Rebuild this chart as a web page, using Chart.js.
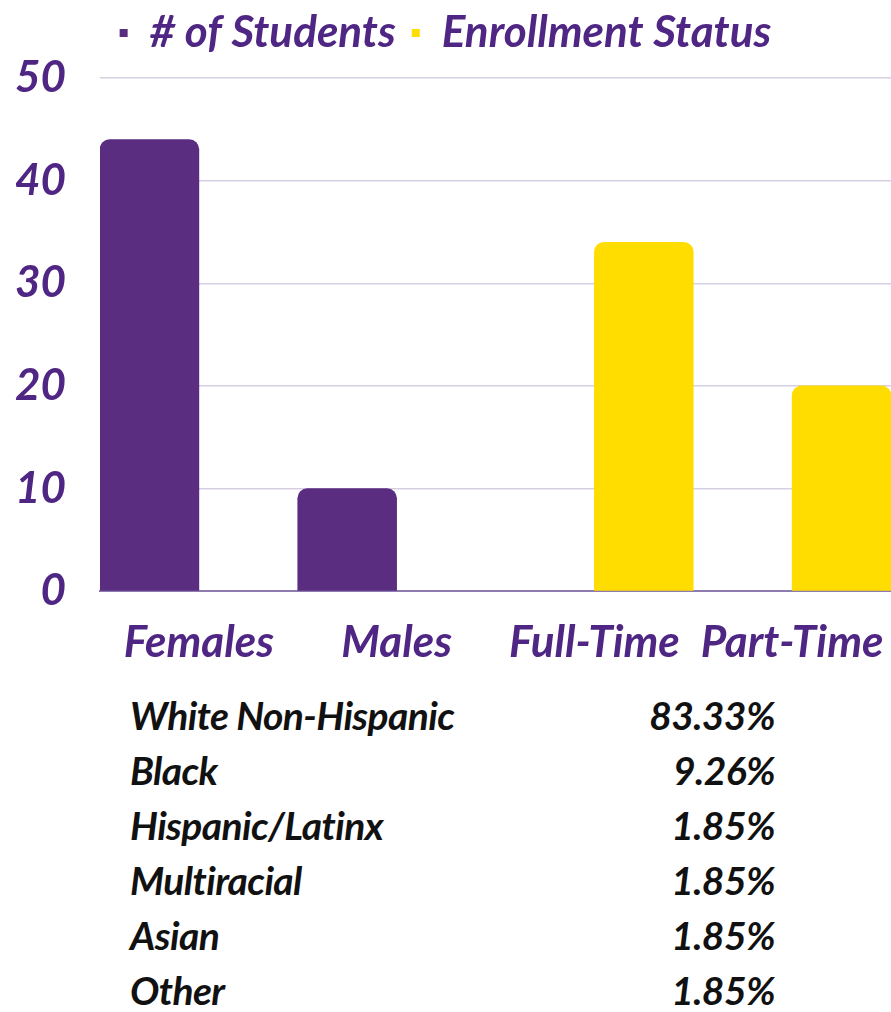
<!DOCTYPE html>
<html>
<head>
<meta charset="utf-8">
<script src="https://cdn.jsdelivr.net/npm/chart.js@4/dist/chart.umd.min.js"></script>
<style>
  body { margin: 0; background: #fff; }
  #wrap { position: relative; width: 891px; height: 686px; }
  #table { position: absolute; left: 0; top: 688px; width: 891px; }
  .row {
    position: absolute; left: 0; width: 891px; height: 55px;
    font-family: Lato, sans-serif; font-weight: bold; font-style: italic;
    font-size: 39px; letter-spacing: -0.6px; color: #111; line-height: 55px;
  }
  .row .name { position: absolute; left: 130px; }
  .row .pct { position: absolute; right: 116px; }
</style>
</head>
<body>
<div id="wrap"><canvas id="chart"></canvas></div>
<div id="table"></div>
<script>
const categories = ['Females', 'Males', 'Full-Time', 'Part-Time'];
const students = [44, 10, null, null];
const enrollment = [null, null, 34, 20];
const yTicks = [0, 10, 20, 30, 40, 50];

const groups = ['White Non-Hispanic', 'Black', 'Hispanic/Latinx', 'Multiracial', 'Asian', 'Other'];
const shares = ['83.33%', '9.26%', '1.85%', '1.85%', '1.85%', '1.85%'];

const purple = '#5a2d81';
const textPurple = '#4f2683';
const yellow = '#ffdd00';
const font = { family: 'Lato', weight: 'bold', style: 'italic', size: 44 };

// extra room under the legend
const legendGap = {
    id: 'legendGap',
    beforeInit(chart) {
        const fit = chart.legend.fit;
        chart.legend.fit = function () {
            fit.bind(chart.legend)();
            this.height += 13;
        };
    }
};

const ctx = document.getElementById('chart').getContext('2d');

const chart = new Chart(ctx, {
    type: 'bar',
    data: {
        labels: categories,
        datasets: [
            {
                label: '# of Students',
                data: students,
                backgroundColor: purple,
                borderRadius: 10,
                borderSkipped: 'start'
            },
            {
                label: 'Enrollment Status',
                data: enrollment,
                backgroundColor: yellow,
                borderRadius: 10,
                borderSkipped: 'start'
            }
        ]
    },
    options: {
        responsive: true,
        maintainAspectRatio: false,
        animation: false,
        layout: { padding: { top: -5, right: 0, left: 0, bottom: 0 } },
        datasets: {
            bar: { barPercentage: 1, categoryPercentage: 1 }
        },
        plugins: {
            tooltip: { enabled: false },
            legend: {
                position: 'top',
                labels: {
                    font: font,
                    color: textPurple,
                    boxWidth: 8,
                    boxHeight: 8,
                    padding: 16
                }
            }
        },
        scales: {
            x: {
                afterFit: function (scale) {
                    scale.paddingLeft = 0;
                    scale.paddingRight = 0;
                },
                grid: { display: false },
                border: { display: true, color: '#8d7bb0', width: 2 },
                ticks: {
                    font: font,
                    color: textPurple,
                    maxRotation: 0,
                    autoSkip: false,
                    padding: 17
                }
            },
            y: {
                min: 0,
                max: 50,
                afterFit: function (scale) { scale.width = 100; },
                afterBuildTicks: function (scale) {
                    scale.ticks = yTicks.map(v => ({ value: v }));
                },
                grid: {
                    color: c => c.tick && c.tick.value === 0 ? '#8d7bb0' : '#d6cfe4',
                    lineWidth: 1.5,
                    drawTicks: false
                },
                border: { display: false },
                ticks: {
                    font: font,
                    color: textPurple,
                    padding: 34
                }
            }
        }
    },
    plugins: [legendGap]
});

const table = document.getElementById('table');
groups.forEach((g, i) => {
    const row = document.createElement('div');
    row.className = 'row';
    row.style.top = (i * 55) + 'px';
    row.innerHTML = '<span class="name"></span><span class="pct"></span>';
    row.querySelector('.name').innerText = g;
    row.querySelector('.pct').innerText = shares[i];
    table.appendChild(row);
});
</script>
</body>
</html>
